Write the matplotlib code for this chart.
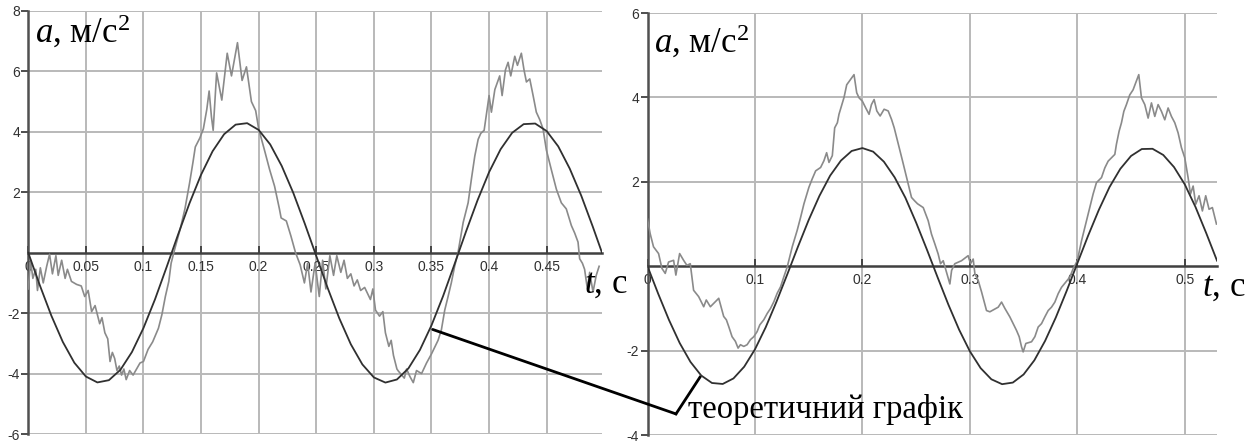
import matplotlib
matplotlib.use("Agg")
import matplotlib.pyplot as plt
from matplotlib.patches import ConnectionPatch

plt.rcParams['axes.unicode_minus'] = False
plt.rcParams['mathtext.fontset'] = 'custom'
plt.rcParams['mathtext.rm'] = 'Liberation Serif'
plt.rcParams['mathtext.it'] = 'Liberation Serif:italic'

# ---- left plot: experimental (gray) and theoretical (black) ----
t_left_exp = [0.000, 0.002, 0.004, 0.0065, 0.008, 0.0105, 0.013, 0.016, 0.0185, 0.021,
              0.024, 0.026, 0.029, 0.032, 0.034, 0.0375, 0.042, 0.046, 0.049, 0.052,
              0.055, 0.058, 0.062, 0.064, 0.0665, 0.069, 0.071, 0.073, 0.075, 0.077,
              0.079, 0.081, 0.083, 0.085, 0.088, 0.091, 0.094, 0.097, 0.100, 0.104,
              0.108, 0.113, 0.116, 0.119, 0.122, 0.124, 0.127, 0.132, 0.136, 0.140,
              0.143, 0.145, 0.149, 0.152, 0.155, 0.157, 0.159, 0.1605, 0.1635, 0.168,
              0.1727, 0.1764, 0.1816, 0.1856, 0.1894, 0.1937, 0.1974, 0.200, 0.205, 0.2095,
              0.2138, 0.218, 0.2195, 0.224, 0.228, 0.232, 0.236, 0.2397, 0.2425, 0.2454,
              0.249, 0.2526, 0.2555, 0.2583, 0.2618, 0.265, 0.2678, 0.2713, 0.2741, 0.277,
              0.280, 0.2828, 0.2856, 0.2885, 0.292, 0.297, 0.2991, 0.3014, 0.3049, 0.3078,
              0.310, 0.313, 0.315, 0.317, 0.320, 0.3213, 0.3264, 0.3284, 0.3313, 0.3342,
              0.337, 0.3414, 0.3457, 0.350, 0.3557, 0.3586, 0.3615, 0.3644, 0.3672, 0.3701,
              0.373, 0.3775, 0.3818, 0.3847, 0.3876, 0.3905, 0.3928, 0.3957, 0.400, 0.402,
              0.405, 0.4092, 0.4113, 0.4142, 0.4165, 0.4188, 0.4223, 0.4246, 0.428, 0.4303,
              0.4324, 0.4353, 0.4382, 0.441, 0.444, 0.4468, 0.4497, 0.454, 0.4584, 0.4627,
              0.467, 0.4714, 0.4743, 0.4772, 0.4786, 0.481, 0.4829, 0.4853, 0.4873, 0.4902,
              0.493, 0.4955]
a_left_exp = [-1.20, -0.25, -0.85, -0.55, -1.25, -0.50, -1.00, -0.45, -0.05, -0.70,
              -0.10, -0.75, -0.25, -0.85, -0.55, -0.95, -1.05, -1.10, -1.45, -1.25,
              -1.95, -1.75, -2.35, -2.15, -2.65, -2.85, -3.60, -3.30, -3.50, -3.90,
              -3.75, -4.05, -3.85, -4.20, -3.90, -4.05, -3.85, -3.65, -3.60, -3.20,
              -2.95, -2.50, -2.05, -1.45, -0.95, -0.35, 0.10, 0.80, 1.45, 2.30,
              3.00, 3.50, 3.80, 4.10, 4.75, 5.35, 4.50, 4.05, 5.95, 5.05,
              6.60, 5.85, 6.95, 5.70, 6.15, 5.00, 4.70, 4.10, 3.40, 2.75,
              2.20, 1.45, 1.15, 1.05, 0.55, 0.00, -0.40, -1.00, -0.35, -1.30,
              -0.35, -1.45, -0.25, -1.20, -0.10, -0.75, -0.10, -0.65, -0.25, -0.85,
              -0.70, -1.10, -0.90, -1.25, -1.15, -1.55, -1.20, -1.90, -2.10, -1.95,
              -2.65, -3.10, -2.90, -3.40, -3.85, -3.92, -4.15, -3.85, -4.10, -4.30,
              -3.90, -4.00, -3.65, -3.35, -2.90, -2.55, -1.90, -1.45, -1.00, -0.45,
              0.00, 1.00, 1.65, 2.45, 3.20, 3.75, 3.95, 4.05, 5.20, 4.65,
              5.40, 5.85, 5.20, 6.05, 6.30, 5.85, 6.50, 6.20, 6.60, 6.05,
              5.65, 5.75, 5.20, 4.65, 4.40, 4.10, 3.40, 2.75, 2.10, 1.65,
              1.45, 0.90, 0.65, 0.35, -0.20, -0.35, -0.55, -1.20, -0.65, -1.30,
              -0.75, -0.45]

t_left_th = [0.00, 0.01, 0.02, 0.03, 0.04, 0.05, 0.06, 0.07, 0.08, 0.09,
             0.10, 0.11, 0.12, 0.13, 0.14, 0.15, 0.16, 0.17, 0.18, 0.19,
             0.20, 0.21, 0.22, 0.23, 0.24, 0.25, 0.26, 0.27, 0.28, 0.29,
             0.30, 0.31, 0.32, 0.33, 0.34, 0.35, 0.36, 0.37, 0.38, 0.39,
             0.40, 0.41, 0.42, 0.43, 0.44, 0.45, 0.46, 0.47, 0.48, 0.49, 0.498]
a_left_th = [0.000, -1.074, -2.079, -2.953, -3.641, -4.097, -4.293, -4.219, -3.876, -3.287,
             -2.493, -1.545, -0.487, 0.595, 1.640, 2.580, 3.357, 3.921, 4.238, 4.286,
             4.062, 3.583, 2.871, 1.983, 0.964, -0.109, -1.179, -2.174, -3.031, -3.697,
             -4.128, -4.298, -4.196, -3.827, -3.215, -2.404, -1.443, -0.379, 0.703, 1.738,
             2.666, 3.423, 3.967, 4.254, 4.274, 4.024, 3.519, 2.782, 1.886, 0.861, 0.000]

# ---- right plot ----
t_right_exp = [0.000, 0.0025, 0.0056, 0.0103, 0.0134, 0.0165, 0.0196, 0.0243, 0.0264, 0.0299,
               0.0336, 0.0367, 0.0398, 0.0429, 0.0476, 0.0523, 0.0547, 0.0585, 0.0663, 0.0709,
               0.0734, 0.0756, 0.0787, 0.0818, 0.0843, 0.0865, 0.0896, 0.0927, 0.0958, 0.0989,
               0.102, 0.1045, 0.1082, 0.1114, 0.1145, 0.1176, 0.1207, 0.1238, 0.1269, 0.130,
               0.1347, 0.1393, 0.1425, 0.1456, 0.1502, 0.1533, 0.1565, 0.1611, 0.1642, 0.1667,
               0.1689, 0.172, 0.1742, 0.1767, 0.1782, 0.1829, 0.1854, 0.1922, 0.1947, 0.1969,
               0.200, 0.2031, 0.2062, 0.2084, 0.2109, 0.2134, 0.2165, 0.2202, 0.224, 0.2271,
               0.2296, 0.2327, 0.2373, 0.2404, 0.2435, 0.2457, 0.2482, 0.2513, 0.2566, 0.2612,
               0.2643, 0.2674, 0.2705, 0.2727, 0.2752, 0.2814, 0.283, 0.286, 0.2922, 0.2984,
               0.3006, 0.3031, 0.3047, 0.3078, 0.3109, 0.3155, 0.3186, 0.3264, 0.3295, 0.3326,
               0.3372, 0.3403, 0.3434, 0.3459, 0.3481, 0.3496, 0.3521, 0.3574, 0.3605, 0.3636,
               0.3667, 0.3698, 0.3729, 0.376, 0.3791, 0.3822, 0.3853, 0.393, 0.3961, 0.400,
               0.4039, 0.407, 0.4101, 0.4147, 0.4178, 0.4225, 0.4256, 0.4287, 0.4318, 0.4349,
               0.4364, 0.4389, 0.4411, 0.4433, 0.4457, 0.4488, 0.4519, 0.4572, 0.4597, 0.4628,
               0.4659, 0.469, 0.4721, 0.4752, 0.4783, 0.4814, 0.4845, 0.4876, 0.4907, 0.4938,
               0.4969, 0.500, 0.5031, 0.5053, 0.5078, 0.5102, 0.5133, 0.5164, 0.5195, 0.5226,
               0.5257, 0.5279, 0.5295]
a_right_exp = [1.12, 0.77, 0.46, 0.30, -0.05, -0.17, 0.10, 0.14, -0.21, 0.30,
               0.14, 0.02, 0.06, -0.57, -0.72, -0.96, -0.80, -0.96, -0.76, -1.19,
               -1.27, -1.43, -1.67, -1.78, -1.94, -1.86, -1.90, -1.86, -1.74, -1.67,
               -1.55, -1.39, -1.27, -1.12, -1.00, -0.84, -0.64, -0.49, -0.25, -0.02,
               0.46, 0.85, 1.16, 1.48, 1.87, 2.07, 2.26, 2.34, 2.50, 2.69,
               2.46, 2.62, 3.28, 3.40, 3.60, 4.00, 4.30, 4.54, 4.11, 3.99,
               3.91, 3.75, 3.60, 3.83, 3.95, 3.68, 3.56, 3.72, 3.68, 3.48,
               3.28, 2.97, 2.50, 2.18, 1.87, 1.63, 1.56, 1.48, 1.39, 1.08,
               0.76, 0.53, 0.29, 0.06, 0.13, -0.42, -0.10, 0.06, 0.13, 0.25,
               0.06, 0.17, -0.18, -0.34, -0.61, -1.05, -1.08, -0.97, -0.85, -1.00,
               -1.20, -1.36, -1.52, -1.67, -1.91, -2.03, -1.83, -1.79, -1.67, -1.44,
               -1.36, -1.20, -1.05, -0.97, -0.85, -0.65, -0.50, -0.26, -0.06, 0.13,
               0.60, 0.92, 1.23, 1.71, 1.98, 2.10, 2.33, 2.49, 2.57, 2.65,
               2.89, 3.20, 3.40, 3.67, 3.83, 4.06, 4.18, 4.54, 3.99, 3.83,
               3.51, 3.87, 3.55, 3.83, 3.67, 3.47, 3.75, 3.55, 3.40, 3.16,
               2.81, 2.57, 2.10, 1.71, 1.90, 1.47, 1.67, 1.31, 1.67, 1.35,
               1.39, 1.16, 1.00]

t_right_th = [0.00, 0.01, 0.02, 0.03, 0.04, 0.05, 0.06, 0.07, 0.08, 0.09,
              0.10, 0.11, 0.12, 0.13, 0.14, 0.15, 0.16, 0.17, 0.18, 0.19,
              0.20, 0.21, 0.22, 0.23, 0.24, 0.25, 0.26, 0.27, 0.28, 0.29,
              0.30, 0.31, 0.32, 0.33, 0.34, 0.35, 0.36, 0.37, 0.38, 0.39,
              0.40, 0.41, 0.42, 0.43, 0.44, 0.45, 0.46, 0.47, 0.48, 0.49,
              0.50, 0.51, 0.52, 0.53]
a_right_th = [0.000, -0.655, -1.274, -1.822, -2.268, -2.590, -2.767, -2.790, -2.659, -2.381,
              -1.970, -1.447, -0.843, -0.198, 0.461, 1.095, 1.667, 2.148, 2.503, 2.731,
              2.800, 2.715, 2.477, 2.106, 1.623, 1.034, 0.396, -0.264, -0.909, -1.504,
              -2.015, -2.414, -2.679, -2.795, -2.757, -2.565, -2.230, -1.770, -1.214, -0.590,
              0.066, 0.720, 1.333, 1.877, 2.307, 2.613, 2.777, 2.783, 2.636, 2.349,
              1.940, 1.403, 0.783, 0.132]

left_xticks = [0, 0.05, 0.1, 0.15, 0.2, 0.25, 0.3, 0.35, 0.4, 0.45]
left_yticks = [-6, -4, -2, 2, 4, 6, 8]
right_xticks = [0, 0.1, 0.2, 0.3, 0.4, 0.5]
right_yticks = [-4, -2, 2, 4, 6]

EXP_COLOR = '#8a8a8a'
TH_COLOR = '#303030'
GRID_COLOR = '#b9b9b9'
SERIF = 'Liberation Serif'


def style_axes(ax, xticks, yticks, xlim, ylim):
    ax.set_xlim(*xlim)
    ax.set_ylim(*ylim)
    ax.set_xticks(xticks)
    ax.set_xticklabels(['%g' % v for v in xticks])
    ax.set_yticks(yticks)
    ax.set_yticklabels(['%g' % v for v in yticks])
    for v in xticks[1:]:
        ax.axvline(v, color=GRID_COLOR, lw=1.4, zorder=0)
    for v in yticks:
        ax.axhline(v, color=GRID_COLOR, lw=1.4, zorder=0)
    ax.spines['top'].set_visible(False)
    ax.spines['right'].set_visible(False)
    ax.spines['bottom'].set_position(('data', 0))
    ax.spines['bottom'].set_color('#404040')
    ax.spines['bottom'].set_linewidth(1.8)
    ax.spines['left'].set_color('#505050')
    ax.spines['left'].set_linewidth(1.8)
    ax.tick_params(axis='x', direction='in', length=5, width=1.2, pad=5,
                   colors='#303030', labelsize=10)
    ax.tick_params(axis='y', direction='out', length=5, width=1.2, pad=1,
                   colors='#303030', labelsize=10)
    for lab in ax.get_xticklabels() + ax.get_yticklabels():
        lab.set_fontfamily('Liberation Sans')


fig = plt.figure(figsize=(12.5, 4.43), dpi=100)
ax1 = fig.add_axes([0.0226, 0.0203, 0.459, 0.955])
ax2 = fig.add_axes([0.518, 0.018, 0.4556, 0.9526])

style_axes(ax1, left_xticks, left_yticks, (0, 0.498), (-6, 8))
style_axes(ax2, right_xticks, right_yticks, (0, 0.53), (-4, 6))

ax1.plot(t_left_exp, a_left_exp, color=EXP_COLOR, lw=1.2, zorder=3)
ax1.plot(t_left_th, a_left_th, color=TH_COLOR, lw=1.3, zorder=4)
ax2.plot(t_right_exp, a_right_exp, color=EXP_COLOR, lw=1.2, zorder=3)
ax2.plot(t_right_th, a_right_th, color=TH_COLOR, lw=1.3, zorder=4)

ylabel = r'$a$, м/с$^2$'
ax1.text(0.012, 0.995, ylabel, transform=ax1.transAxes, fontsize=25,
         family=SERIF, va='top', ha='left', zorder=5)
ax2.text(0.012, 0.975, ylabel, transform=ax2.transAxes, fontsize=25,
         family=SERIF, va='top', ha='left', zorder=5)
ax1.text(0.4826, -1.31, r'$t$, с', fontsize=25, family=SERIF,
         va='baseline', ha='left', clip_on=False, zorder=5)
ax2.text(0.5158, -0.69, r'$t$, с', fontsize=25, family=SERIF,
         va='baseline', ha='left', clip_on=False, zorder=5)

# leader lines to the caption
corner = (0.0265, -3.5)
con = ConnectionPatch(xyA=(0.351, -2.54), coordsA=ax1.transData,
                      xyB=corner, coordsB=ax2.transData,
                      color='black', lw=2)
fig.add_artist(con)
ax2.plot([corner[0], 0.0488], [corner[1], -2.63], color='black', lw=2,
         clip_on=False, zorder=6)
ax2.text(0.0377, -3.6, 'теоретичний графік', fontsize=23.5, family=SERIF,
         va='baseline', ha='left', zorder=6)

fig.savefig('out.png', dpi=100)
